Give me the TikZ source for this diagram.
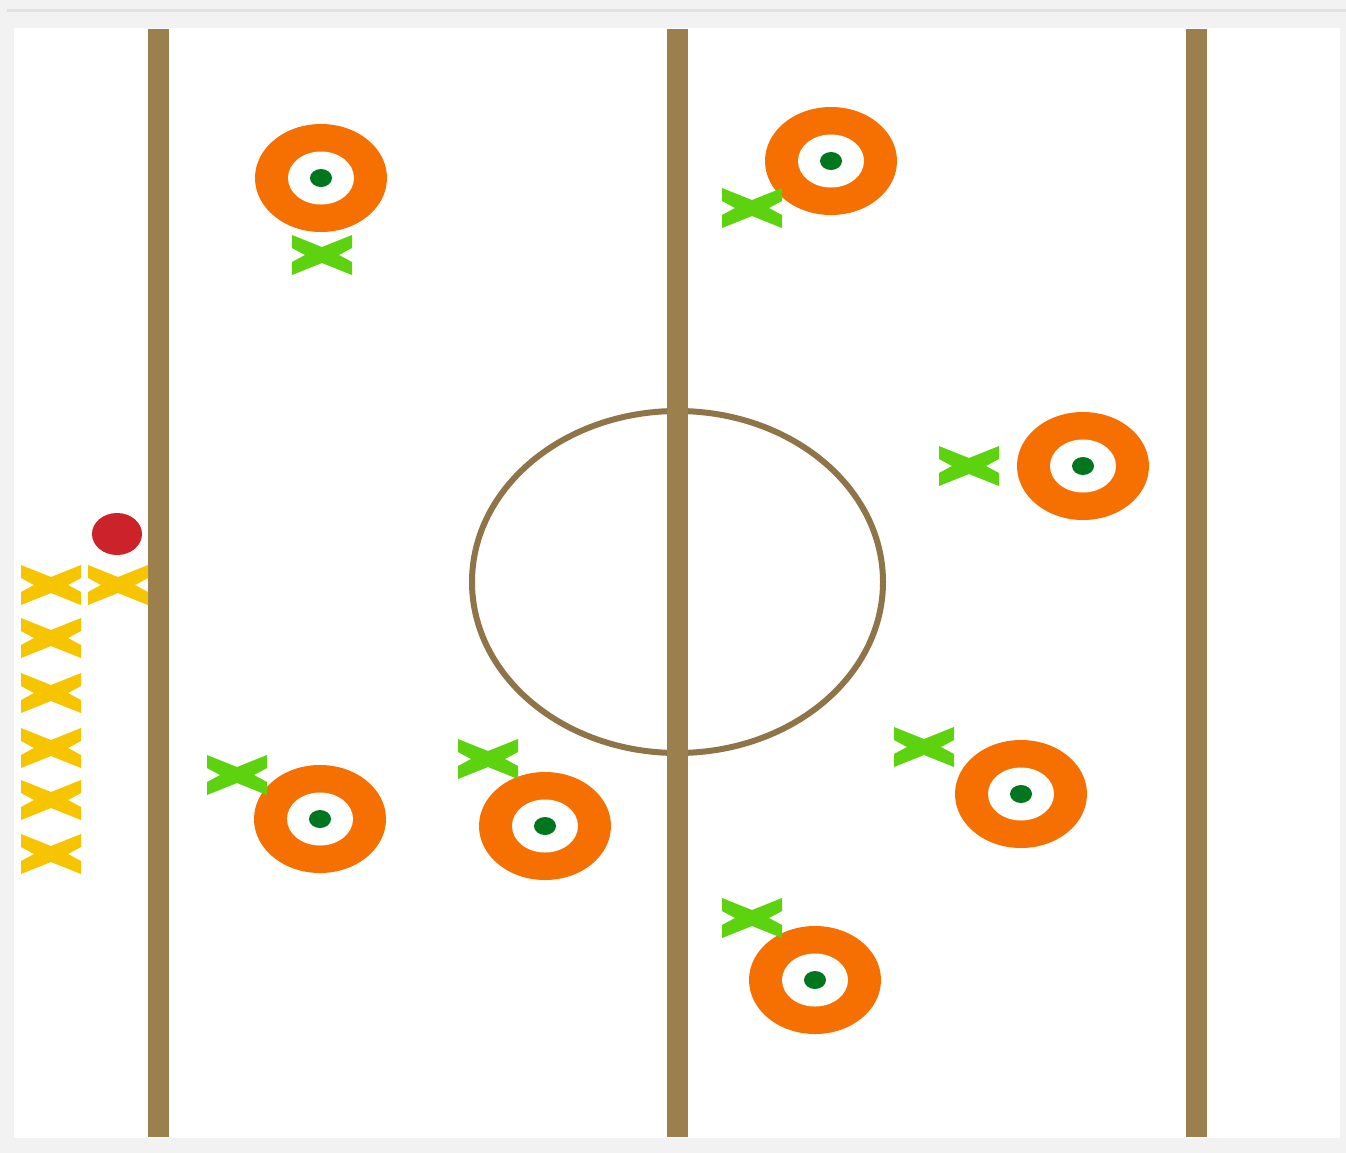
\documentclass[tikz,border=0pt]{standalone}
\definecolor{bggray}{HTML}{F2F2F2}
\definecolor{topline}{HTML}{E2E2E2}
\definecolor{linebrown}{HTML}{9B7F4D}
\definecolor{circbrown}{HTML}{8F7448}
\definecolor{ringorange}{HTML}{F57000}
\definecolor{dotgreen}{HTML}{00761E}
\definecolor{xgreen}{HTML}{5DD30F}
\definecolor{xyellow}{HTML}{F7C400}
\definecolor{balred}{HTML}{CC2229}
\tikzset{
  xm/.pic={
    \fill (-30,-20) -- (0,-8) -- (30,-20) -- (30,-7) -- (17,0) -- (30,7)
      -- (30,20) -- (0,8) -- (-30,20) -- (-30,7) -- (-17,0) -- (-30,-7) -- cycle;
  },
  ring/.pic={
    \fill[ringorange] (0,0) ellipse [x radius=66, y radius=54];
    \fill[white] (0,0) ellipse [x radius=33, y radius=26.5];
    \fill[dotgreen] (0,0) ellipse [x radius=11, y radius=9];
  },
  fieldline/.style={fill=linebrown},
}
\begin{document}
\begin{tikzpicture}[x=0.02cm,y=-0.02cm]
\fill[bggray] (0,0) rectangle (1346,1153);
\useasboundingbox (0,0) rectangle (1346,1153);
\fill[topline] (7,9) rectangle (1346,12);
\fill[white] (14,28) rectangle (1340,1138);
% centre circle
\draw[circbrown, line width=0.12cm] (677.5,582) ellipse [x radius=205.5, y radius=171];
% lines
\fill[fieldline] (148,29) rectangle (169,1137);
\fill[fieldline] (667,29) rectangle (688,1137);
\fill[fieldline] (1186,29) rectangle (1207,1137);
% rings
\pic at (321,178) {ring};
\pic at (831,161) {ring};
\pic at (1083,466) {ring};
\pic at (320,819) {ring};
\pic at (545,826) {ring};
\pic at (1021,794) {ring};
\pic at (815,980) {ring};
% green X
\pic[color=xgreen] at (322,255) {xm};
\pic[color=xgreen] at (752,208) {xm};
\pic[color=xgreen] at (969,466) {xm};
\pic[color=xgreen] at (237,775) {xm};
\pic[color=xgreen] at (488,759) {xm};
\pic[color=xgreen] at (924,747) {xm};
\pic[color=xgreen] at (752,918) {xm};
% yellow X
\foreach \yy in {585,638,693,748,800,854}
  \pic[color=xyellow] at (51,\yy) {xm};
\pic[color=xyellow] at (118,585) {xm};
% ball
\fill[balred] (117,534) ellipse [x radius=25, y radius=21];
\end{tikzpicture}
\end{document}
